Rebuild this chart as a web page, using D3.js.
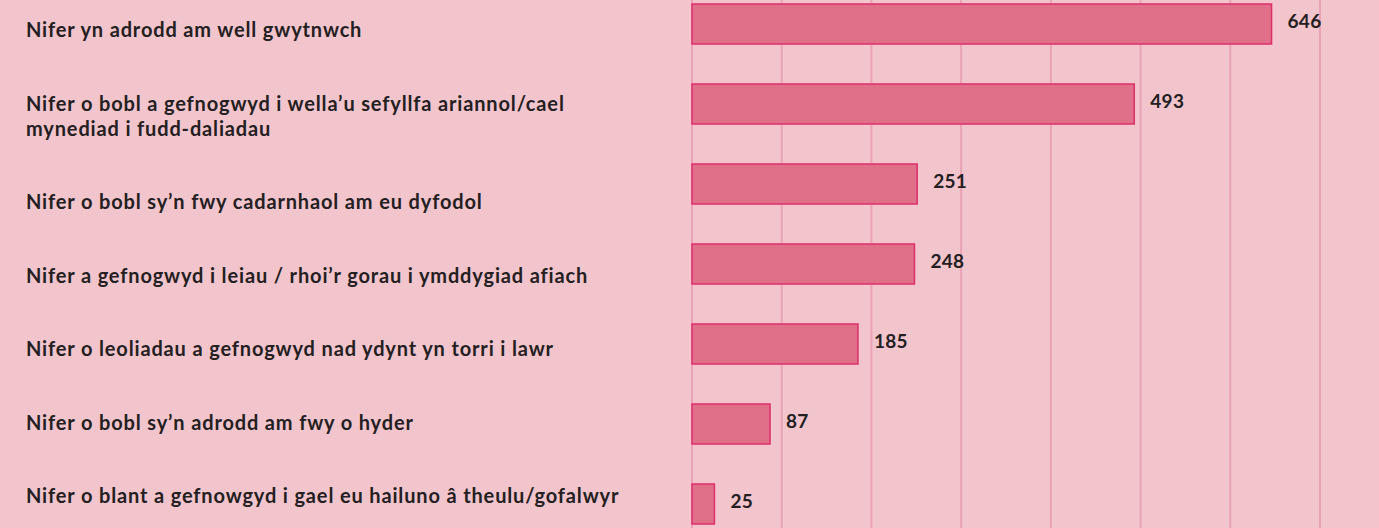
<!DOCTYPE html>
<html>
<head>
<meta charset="utf-8">
<script src="https://cdn.jsdelivr.net/npm/d3@7"></script>
<style>
  html, body { margin: 0; padding: 0; background: #f2c5cd; }
  svg { display: block; }
  text { font-family: "Lato", "Open Sans", sans-serif; font-weight: 700; fill: #242021; }
</style>
</head>
<body>
<div id="chart"></div>
<script>
const labels = [
  ["Nifer yn adrodd am well gwytnwch"],
  ["Nifer o bobl a gefnogwyd i wella\u2019u sefyllfa ariannol/cael", "mynediad i fudd-daliadau"],
  ["Nifer o bobl sy\u2019n fwy cadarnhaol am eu dyfodol"],
  ["Nifer a gefnogwyd i leiau / rhoi\u2019r gorau i ymddygiad afiach"],
  ["Nifer o leoliadau a gefnogwyd nad ydynt yn torri i lawr"],
  ["Nifer o bobl sy\u2019n adrodd am fwy o hyder"],
  ["Nifer o blant a gefnowgyd i gael eu hailuno \u00e2 theulu/gofalwyr"]
];
const values = [646, 493, 251, 248, 185, 87, 25];
const xTicks = [0, 100, 200, 300, 400, 500, 600, 700];

const width = 1379, height = 528;

const svg = d3.select("#chart").append("svg")
    .attr("width", width)
    .attr("height", height);

const x = d3.scaleLinear()
    .domain([0, 700])
    .range([692, 1320]);

const y = d3.scaleBand()
    .domain(d3.range(values.length))
    .range([-16, 544])
    .paddingInner(0.5)
    .paddingOuter(0.25);

// vertical gridlines
svg.append("g")
    .selectAll("line")
    .data(xTicks)
    .join("line")
    .attr("x1", d => x(d))
    .attr("x2", d => x(d))
    .attr("y1", 0)
    .attr("y2", height)
    .attr("stroke", "#e9a3b4")
    .attr("stroke-width", 2);

// bars
svg.append("g")
    .selectAll("rect")
    .data(values)
    .join("rect")
    .attr("x", x(0))
    .attr("y", (d, i) => y(i))
    .attr("width", d => x(d) - x(0))
    .attr("height", y.bandwidth())
    .attr("fill", "#e07089")
    .attr("stroke", "#dc2f6a")
    .attr("stroke-width", 1.5);

// value labels
svg.append("g")
    .selectAll("text")
    .data(values)
    .join("text")
    .attr("x", d => x(d) + 16)
    .attr("y", (d, i) => y(i) + y.bandwidth() / 2)
    .attr("dy", "0.22em")
    .style("font-size", "19px")
    .style("letter-spacing", "0.3px")
    .text(d => d);

// category labels, flowing down the left column
const lineH = 25, rowGap = 73.5;
let base = 37;
const labelG = svg.append("g");
labels.forEach(lines => {
  const t = labelG.append("text")
      .attr("x", 26)
      .attr("y", base)
      .style("font-size", "20px")
      .style("letter-spacing", "0.85px");
  lines.forEach((ln, j) => {
    t.append("tspan")
        .attr("x", 26)
        .attr("y", base + j * lineH)
        .text(ln);
  });
  base += (lines.length - 1) * lineH + rowGap;
});
</script>
</body>
</html>
